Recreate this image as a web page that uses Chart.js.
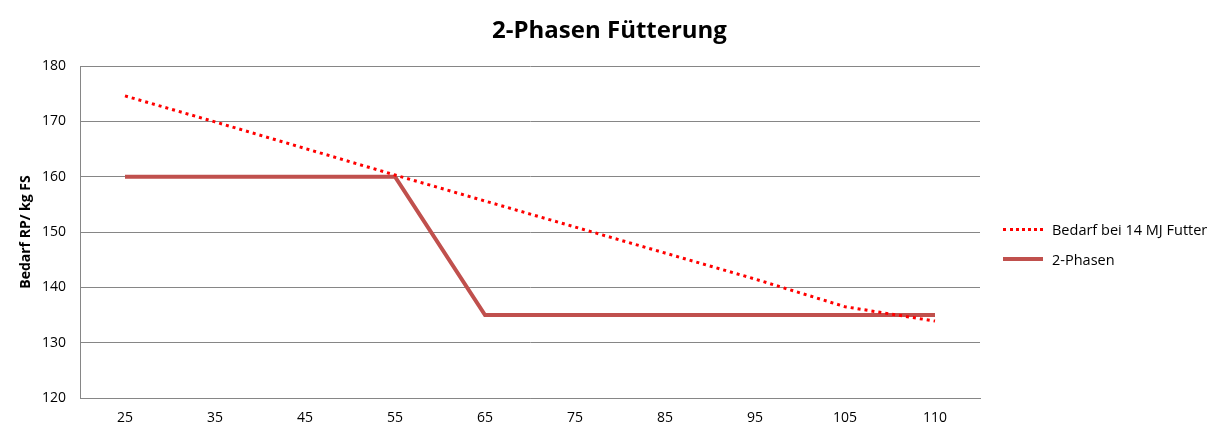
<!DOCTYPE html>
<html>
<head>
<meta charset="utf-8">
<script src="https://cdn.jsdelivr.net/npm/chart.js@4"></script>
<style>
  body { margin: 0; background: #fff; font-family: 'Open Sans', sans-serif; }
  #wrap { position: relative; width: 1219px; height: 437px; }
  #title { position: absolute; left: 0; top: 12px; width: 1219px; text-align: center; font-size: 24px; font-weight: bold; color: #000; }
  #legend { position: absolute; left: 1003px; top: 214px; font-size: 14.5px; color: #000; }
  .item { display: flex; align-items: center; height: 30px; }
  .sample { width: 40px; margin-right: 9px; }
  .dots { border-top: 3px dotted #ff0000; }
  .solid { border-top: 4px solid #c0504d; }
</style>
</head>
<body>
<div id="wrap">
  <canvas id="chart" width="1219" height="437"></canvas>
  <div id="title">2-Phasen Fütterung</div>
  <div id="legend">
    <div class="item"><div class="sample dots"></div>Bedarf bei 14 MJ Futter</div>
    <div class="item"><div class="sample solid"></div>2-Phasen</div>
  </div>
</div>
<script>
const weights = ['25', '35', '45', '55', '65', '75', '85', '95', '105', '110']
const bedarf = [174.6, 169.9, 165.1, 160.3, 155.6, 150.9, 146.2, 141.5, 136.5, 133.9]
const zweiPhasen = [160, 160, 160, 160, 135, 135, 135, 135, 135, 135]
const yTicks = [120, 130, 140, 150, 160, 170, 180]

const font = 'Open Sans'
const ctx = document.getElementById('chart').getContext('2d')

new Chart(ctx, {
  type: 'line',
  data: {
    labels: weights,
    datasets: [{
      label: 'Bedarf bei 14 MJ Futter',
      data: bedarf,
      borderColor: '#ff0000',
      borderWidth: 3,
      borderDash: [3, 4],
      pointRadius: 0,
      tension: 0
    }, {
      label: '2-Phasen',
      data: zweiPhasen,
      borderColor: '#c0504d',
      borderWidth: 4,
      pointRadius: 0,
      tension: 0
    }]
  },
  options: {
    responsive: false,
    animation: false,
    layout: { padding: { top: 66, right: 239, left: 0, bottom: 0 } },
    plugins: {
      legend: { display: false },
      tooltip: { enabled: false }
    },
    scales: {
      x: {
        offset: true,
        grid: { display: false, drawTicks: false },
        border: { color: '#868686', width: 1 },
        ticks: { color: '#000', font: { family: font, size: 14 }, padding: 12, maxRotation: 0 },
        afterFit: s => { s.height = 39 }
      },
      y: {
        min: 120,
        max: 180,
        afterBuildTicks: s => { s.ticks = yTicks.map(v => ({ value: v })) },
        grid: { color: '#868686', drawTicks: false },
        border: { color: '#868686', width: 1 },
        ticks: { color: '#000', font: { family: font, size: 14 }, padding: 14 },
        title: {
          display: true,
          text: 'Bedarf RP/ kg FS',
          color: '#000',
          font: { family: font, size: 14, weight: 'bold' },
          padding: { top: 18, bottom: 0 }
        },
        afterFit: s => { s.width = 80 }
      }
    }
  }
})
</script>
</body>
</html>
